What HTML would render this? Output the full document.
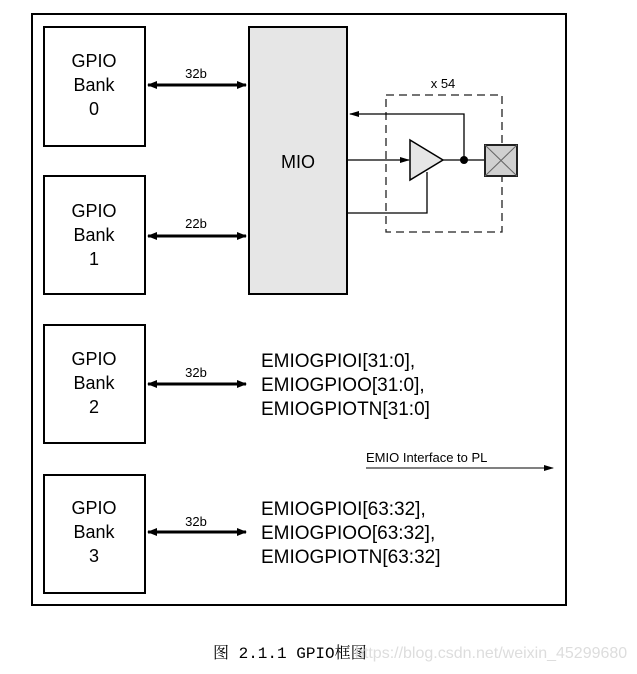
<!DOCTYPE html><html><head><style>body{margin:0;background:#fff}</style></head><body>
<svg width="637" height="669" xmlns="http://www.w3.org/2000/svg" font-family="Liberation Sans, sans-serif">
<defs>
<marker id="a" markerWidth="10" markerHeight="8" refX="9" refY="4" orient="auto-start-reverse" markerUnits="userSpaceOnUse"><path d="M0,0L10,4L0,8z" fill="#000"/></marker>
<marker id="s" markerWidth="10" markerHeight="6" refX="9" refY="3" orient="auto" markerUnits="userSpaceOnUse"><path d="M0,0L10,3L0,6z" fill="#000"/></marker>
</defs>
<rect x="32" y="14" width="534" height="591" fill="none" stroke="#000" stroke-width="2"/>
<g fill="#fff" stroke="#000" stroke-width="2">
<rect x="44" y="27" width="101" height="119"/><rect x="44" y="176" width="101" height="118"/>
<rect x="44" y="325" width="101" height="118"/><rect x="44" y="475" width="101" height="118"/>
<rect x="249" y="27" width="98" height="267" fill="#e6e6e6"/></g>
<g font-size="18" text-anchor="middle" fill="#000">
<text x="94" y="67">GPIO</text><text x="94" y="91">Bank</text><text x="94" y="115">0</text>
<text x="94" y="217">GPIO</text><text x="94" y="241">Bank</text><text x="94" y="265">1</text>
<text x="94" y="365">GPIO</text><text x="94" y="389">Bank</text><text x="94" y="413">2</text>
<text x="94" y="514">GPIO</text><text x="94" y="538">Bank</text><text x="94" y="562">3</text>
<text x="298" y="168">MIO</text></g>
<g stroke="#000" stroke-width="3" marker-start="url(#a)" marker-end="url(#a)">
<line x1="148" y1="85" x2="246" y2="85"/><line x1="148" y1="236" x2="246" y2="236"/>
<line x1="148" y1="384" x2="246" y2="384"/><line x1="148" y1="532" x2="246" y2="532"/></g>
<g font-size="13" text-anchor="middle"><text x="196" y="78">32b</text><text x="196" y="228">22b</text><text x="196" y="377">32b</text><text x="196" y="526">32b</text>
<text x="443" y="88">x 54</text></g>
<g font-size="19"><text x="261" y="367">EMIOGPIOI[31:0],</text><text x="261" y="391">EMIOGPIOO[31:0],</text><text x="261" y="415">EMIOGPIOTN[31:0]</text>
<text x="261" y="515">EMIOGPIOI[63:32],</text><text x="261" y="539">EMIOGPIOO[63:32],</text><text x="261" y="563">EMIOGPIOTN[63:32]</text></g>
<text x="366" y="462" font-size="13">EMIO Interface to PL</text>
<line x1="366" y1="468" x2="553" y2="468" stroke="#000" marker-end="url(#s)"/>
<rect x="386" y="95" width="116" height="137" fill="none" stroke="#222" stroke-width="1.3" stroke-dasharray="8,5"/>
<g stroke="#000" stroke-width="1.3" fill="none">
<polyline points="464,160 464,114 350,114" marker-end="url(#s)"/>
<line x1="347" y1="160" x2="409" y2="160" marker-end="url(#s)"/>
<polyline points="347,213 427,213 427,172"/>
<line x1="443" y1="160" x2="485" y2="160"/></g>
<polygon points="410,140 443,160 410,180" fill="#e6e6e6" stroke="#000" stroke-width="1.5"/>
<circle cx="464" cy="160" r="4"/>
<rect x="485" y="145" width="32" height="31" fill="#d0d0d0" stroke="#222" stroke-width="2"/>
<path d="M485,145L517,176M517,145L485,176" stroke="#666"/>
<text x="213" y="658" font-size="16" font-family="Liberation Mono, Noto Serif CJK SC, monospace">图 2.1.1 GPIO<tspan font-family="Noto Serif CJK SC, serif">框图</tspan></text>
<text x="355" y="658" font-size="16" fill="#ddd">https://blog.csdn.net/weixin_45299680</text>
</svg></body></html>
